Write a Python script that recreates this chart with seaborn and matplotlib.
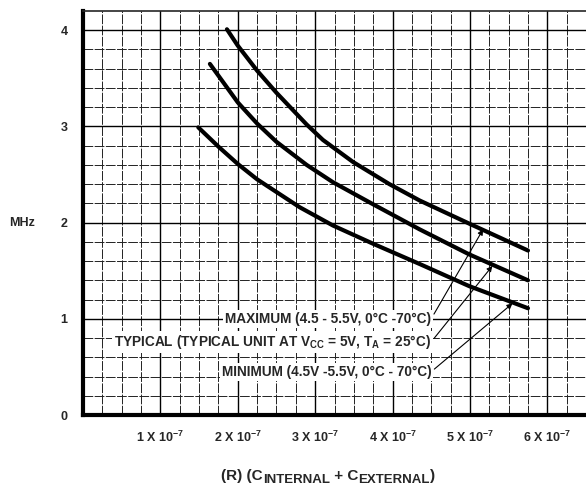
import matplotlib
matplotlib.use("Agg")
import matplotlib.pyplot as plt
import numpy as np
import pandas as pd
import seaborn as sns

# ---- data (x in units of 1e-7) ----
max_x = [1.86, 2.00, 2.25, 2.50, 2.89, 3.10, 3.49, 3.96, 4.35, 4.99, 5.75]
max_y = [4.01, 3.84, 3.58, 3.35, 3.02, 2.86, 2.63, 2.40, 2.23, 1.99, 1.71]
typ_x = [1.64, 2.00, 2.25, 2.50, 2.89, 3.23, 3.75, 4.35, 4.99, 5.75]
typ_y = [3.65, 3.25, 3.03, 2.84, 2.60, 2.42, 2.19, 1.93, 1.67, 1.40]
min_x = [1.49, 1.75, 2.00, 2.25, 2.80, 3.23, 3.75, 4.35, 4.99, 5.75]
min_y = [2.99, 2.79, 2.61, 2.45, 2.16, 1.97, 1.78, 1.57, 1.34, 1.11]

x_ticks = [1, 2, 3, 4, 5, 6]
y_ticks = [0, 1, 2, 3, 4]

labels = [
    "MAXIMUM (4.5 - 5.5V, 0°C -70°C)",
    r"TYPICAL (TYPICAL UNIT AT V$_{\mathbf{CC}}$ = 5V, T$_{\mathbf{A}}$ = 25°C)",
    "MINIMUM (4.5V -5.5V, 0°C - 70°C)",
]
label_y = [1.0, 0.76, 0.45]
arrow_tip = [(5.17, 1.93), (5.29, 1.55), (5.55, 1.16)]

# x axis title pieces: (text, is_subscript)
xlabel_parts = [("(R) (C", False), ("INTERNAL", True), (" + C", False),
                ("EXTERNAL", True), (")", False)]

SCALE = 1e-7

df = pd.concat([
    pd.DataFrame({"x": np.array(max_x) * SCALE, "f": max_y, "curve": "max"}),
    pd.DataFrame({"x": np.array(typ_x) * SCALE, "f": typ_y, "curve": "typ"}),
    pd.DataFrame({"x": np.array(min_x) * SCALE, "f": min_y, "curve": "min"}),
])

sns.set_style("white")
plt.rcParams["font.family"] = ["Liberation Sans", "DejaVu Sans"]
plt.rcParams["mathtext.fontset"] = "custom"
plt.rcParams["mathtext.rm"] = "Liberation Sans"
plt.rcParams["mathtext.bf"] = "Liberation Sans:bold"

fig = plt.figure(figsize=(5.86, 4.86), dpi=100)
ax = fig.add_axes([83 / 586, 1 - 415 / 486, 1 - 83 / 586, 404 / 486])

# graph paper grid
ax.set_xticks(np.arange(0.25, 6.5, 0.25) * SCALE, minor=True)
ax.set_yticks(np.arange(0.2, 4.2, 0.2), minor=True)
ax.grid(which="minor", color="#222222", linewidth=0.7, linestyle=(0, (10, 1.5)))
ax.grid(which="major", color="black", linewidth=1.0)

sns.lineplot(data=df, x="x", y="f", hue="curve", units="curve", estimator=None,
             sort=False, palette=["black"] * 3, linewidth=3.0, legend=False, ax=ax)
for line in ax.lines:
    line.set_solid_joinstyle("round")

ax.set_xlim(0, 6.5e-7)
ax.set_ylim(0, 4.2)
ax.set_xticks(np.array(x_ticks) * SCALE)
ax.set_xticklabels([rf"{v} X 10$^{{\mathbf{{-7}}}}$" for v in x_ticks])
ax.set_yticks(y_ticks)
ax.set_yticklabels([str(v) for v in y_ticks])
ax.tick_params(which="major", direction="out", length=5, width=1.5, color="black",
               labelsize=9, pad=6)
ax.tick_params(which="minor", length=0)
for lab in ax.get_xticklabels() + ax.get_yticklabels():
    lab.set_fontweight("bold")

for side in ["left", "bottom"]:
    ax.spines[side].set_linewidth(3)
    ax.spines[side].set_color("black")
ax.spines["top"].set_linewidth(1.2)
ax.spines["right"].set_visible(False)

ax.set_xlabel("")
ax.set_ylabel("")

for text, ty, tip in zip(labels, label_y, arrow_tip):
    ax.annotate(text, xy=(tip[0] * SCALE, tip[1]), xytext=(4.50e-7, ty),
                ha="right", va="center", fontsize=9.8, fontweight="bold",
                bbox=dict(boxstyle="square,pad=0.15", fc="white", ec="none"),
                arrowprops=dict(arrowstyle="-|>", color="black", lw=0.8,
                                mutation_scale=8, relpos=(1.0, 0.5),
                                shrinkA=1, shrinkB=0))

fig.text(9 / 586, 1 - 223 / 486, "MHz", ha="left", va="center",
         fontsize=9, fontweight="bold")

# x axis title built piece by piece so the subscripts stay large
renderer = fig.canvas.get_renderer()
pieces = []
for part, sub in xlabel_parts:
    t = fig.text(0, 0, part, fontsize=9.5 if sub else 11, fontweight="bold",
                 va="baseline", ha="left", transform=None)
    pieces.append((t, sub))
widths = [t.get_window_extent(renderer).width for t, _ in pieces]
x_px = 328 - sum(widths) / 2
base_px = 486 - 480
for (t, sub), w in zip(pieces, widths):
    t.set_position((x_px, base_px - (3 if sub else 0)))
    x_px += w

fig.savefig("out.png", dpi=100)
